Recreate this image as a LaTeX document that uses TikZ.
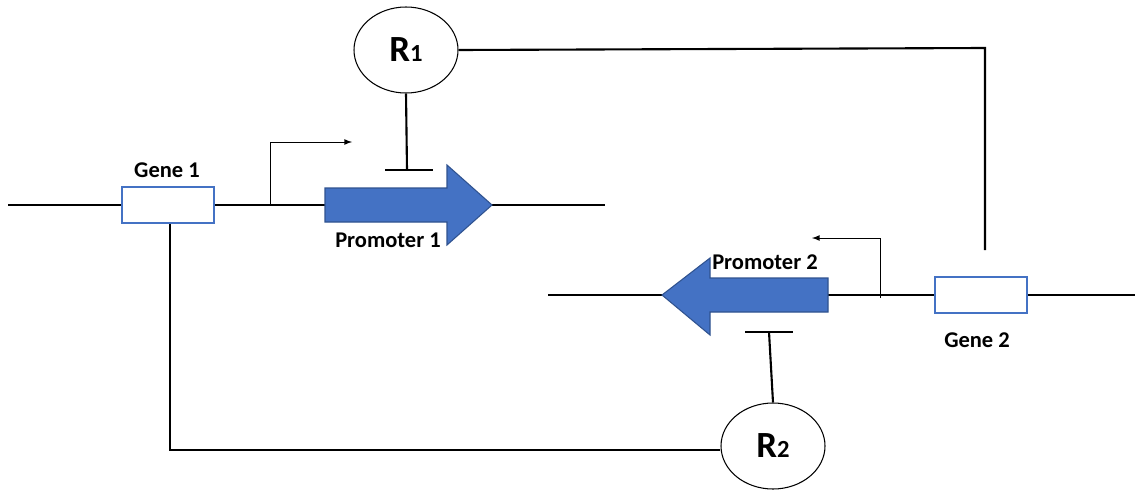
\documentclass[tikz,border=0pt]{standalone}
\usepackage{fontspec}
\setmainfont{Carlito}
\usetikzlibrary{positioning}
\definecolor{promblue}{HTML}{4472C4}
\definecolor{promedge}{HTML}{2F528F}
\tikzset{
  dna/.style={line width=1.2pt},
  genebox/.style={draw=promblue,fill=white,line width=1pt,minimum width=92*0.02cm,minimum height=36*0.02cm,inner sep=0pt},
  prot/.style={draw,ellipse,line width=0.6pt,minimum width=104*0.02cm,minimum height=86*0.02cm,inner sep=0pt},
  lbl/.style={font=\fontsize{12.8}{14}\selectfont\bfseries},
  start/.style={line width=0.5pt,-latex},
}
\newcommand{\repr}[1]{\bfseries\fontsize{21}{21}\selectfont R\fontsize{14}{14}\selectfont #1}
\usetikzlibrary{shapes.geometric}
\begin{document}
\begin{tikzpicture}[x=0.02cm,y=-0.02cm]
\useasboundingbox (0,0) rectangle (1135,490);
% upper strand
\coordinate (l0) at (8,205);
\coordinate (l1) at (605,205);
\coordinate (p1tail) at (325,205);
\coordinate (p1tip) at (492,205);
\node[genebox] (gene1) at (168,205) {};
\node[lbl] (gene1lbl) at (167,170) {Gene 1};
\draw[dna] (l0) -- (gene1.west);
\draw[dna] (gene1.east) -- (p1tail);
\draw[dna] (p1tip) -- (l1);
\draw[fill=promblue,draw=promedge,line width=0.6pt] (325,188) -- (447,188) -- (447,165) -- (p1tip) -- (447,245) -- (447,222) -- (325,222) -- cycle;
\node[lbl] (prom1) at (388,240) {Promoter 1};
\coordinate (s1) at (270,205);
\coordinate (s1end) at (352,142);
\draw[start] (s1) |- (s1end);
% lower strand
\coordinate (r0) at (548,295);
\coordinate (r1) at (1135,295);
\coordinate (p2tail) at (828,295);
\coordinate (p2tip) at (662,295);
\node[genebox] (gene2) at (981,295) {};
\node[lbl] (gene2lbl) at (977,340) {Gene 2};
\draw[dna] (r0) -- (p2tip);
\draw[dna] (p2tail) -- (gene2.west);
\draw[dna] (gene2.east) -- (r1);
\draw[fill=promblue,draw=promedge,line width=0.6pt] (828,278) -- (710,278) -- (710,258) -- (p2tip) -- (710,335) -- (710,312) -- (828,312) -- cycle;
\node[lbl] (prom2) at (765,262) {Promoter 2};
\coordinate (s2) at (880,298);
\coordinate (s2end) at (812,238);
\draw[start] (s2) |- (s2end);
% repressors
\node[prot] (R1) at (406,50) {\repr{1}};
\node[prot] (R2) at (773,446) {\repr{2}};
\coordinate (bar1) at (407,170);
\coordinate (bar2) at (769,332);
\draw[dna] (R1.south) -- (bar1);
\draw[dna] ([xshift=-22*0.02cm]bar1) -- ([xshift=26*0.02cm]bar1);
\draw[dna] (R2.north) -- (bar2);
\draw[dna] ([xshift=-24*0.02cm]bar2) -- ([xshift=24*0.02cm]bar2);
% feedback wires
\coordinate (c1) at (985,48);
\coordinate (c1end) at (985,250);
\draw[dna] (R1.east) -- (c1) -- (c1end);
\coordinate (c2) at (170,450);
\draw[dna] (gene1.south -| c2) -- (c2) -- (R2.west |- c2);
\end{tikzpicture}
\end{document}
